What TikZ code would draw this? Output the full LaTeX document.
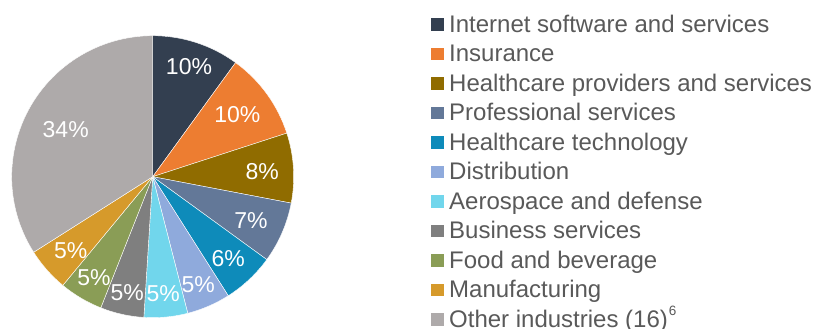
\documentclass[tikz,border=0pt]{standalone}
\usepackage{fontspec}
\setmainfont{Liberation Sans}
\definecolor{c1}{HTML}{333F50}
\definecolor{c2}{HTML}{ED7D31}
\definecolor{c3}{HTML}{906C00}
\definecolor{c4}{HTML}{637898}
\definecolor{c5}{HTML}{0E8BBA}
\definecolor{c6}{HTML}{8FAADC}
\definecolor{c7}{HTML}{71D6EC}
\definecolor{c8}{HTML}{7F7F7F}
\definecolor{c9}{HTML}{8A9D56}
\definecolor{c10}{HTML}{D69A2B}
\definecolor{c11}{HTML}{AEAAAA}
\definecolor{legendgray}{HTML}{595959}
\begin{document}
\begin{tikzpicture}[x=1pt,y=1pt,
  slicelabel/.style={text=white,inner sep=0pt,font=\fontsize{23}{23}\selectfont},
  legtext/.style={text=legendgray,inner sep=0pt,anchor=base west,font=\fontsize{24}{24}\selectfont},
  legbox/.style={minimum width=13pt,minimum height=12.5pt,inner sep=0pt}]
\useasboundingbox (0,0) rectangle (814,329);
\def\cx{152.7}\def\cy{152.3}\def\R{141}
% slices
\foreach \a/\b/\col in {90/54/c1,54/18/c2,18/-10.8/c3,-10.8/-36/c4,-36/-57.6/c5,-57.6/-75.6/c6,-75.6/-93.6/c7,-93.6/-111.6/c8,-111.6/-129.6/c9,-129.6/-147.6/c10,-147.6/-270/c11}
  \filldraw[fill=\col,draw=white,line width=0.4pt] (\cx,\cy) -- ++(\a:\R) arc[start angle=\a,end angle=\b,radius=\R] -- cycle;
% slice labels
\node[slicelabel] (p1) at (189,262.3) {10\%};
\node[slicelabel] (p2) at (237.3,214) {10\%};
\node[slicelabel] (p3) at (262.3,157.3) {8\%};
\node[slicelabel] (p4) at (251,108.3) {7\%};
\node[slicelabel] (p5) at (228.3,70) {6\%};
\node[slicelabel] (p6) at (198.3,44) {5\%};
\node[slicelabel] (p7) at (163.3,35.7) {5\%};
\node[slicelabel] (p8) at (127.3,36.3) {5\%};
\node[slicelabel] (p9) at (94,51.7) {5\%};
\node[slicelabel] (p10) at (70.7,78.3) {5\%};
\node[slicelabel] (p11) at (65.7,199) {34\%};
% legend
\foreach \k/\col/\txt in {0/c1/Internet software and services,1/c2/Insurance,2/c3/Healthcare providers and services,3/c4/Professional services,4/c5/Healthcare technology,5/c6/Distribution,6/c7/Aerospace and defense,7/c8/Business services,8/c9/Food and beverage,9/c10/Manufacturing}{
  \node[legbox,fill=\col] (b\k) at (437.5,{304.3-29.5*\k}) {};
  \node[legtext] (t\k) at (449,{296.8-29.5*\k}) {\txt};
}
\node[legbox,fill=c11] (b10) at (437.5,{304.3-29.5*10}) {};
\node[legtext] (t10) at (449,{296.8-29.5*10}) {Other industries (16)\kern1pt\raisebox{12pt}{\fontsize{13.5}{13.5}\selectfont 6}};
\end{tikzpicture}
\end{document}
